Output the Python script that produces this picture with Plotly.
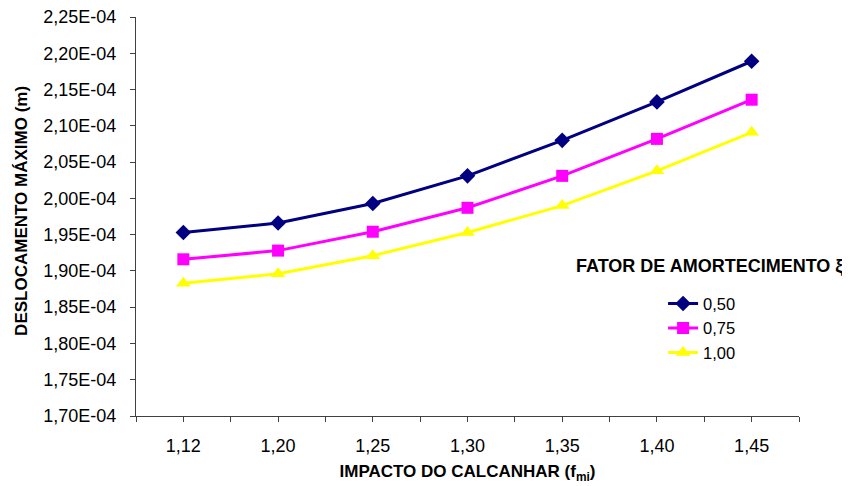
import plotly.graph_objects as go

categories = ["1,12", "1,20", "1,25", "1,30", "1,35", "1,40", "1,45"]
series_names = ["0,50", "0,75", "1,00"]
values_050 = [1.953e-4, 1.966e-4, 1.993e-4, 2.031e-4, 2.080e-4, 2.133e-4, 2.189e-4]
values_075 = [1.916e-4, 1.928e-4, 1.954e-4, 1.987e-4, 2.031e-4, 2.082e-4, 2.136e-4]
values_100 = [1.883e-4, 1.896e-4, 1.921e-4, 1.953e-4, 1.990e-4, 2.038e-4, 2.091e-4]
y_tick_values = [1.70e-4, 1.75e-4, 1.80e-4, 1.85e-4, 1.90e-4, 1.95e-4, 2.00e-4,
                 2.05e-4, 2.10e-4, 2.15e-4, 2.20e-4, 2.25e-4]
y_tick_labels = ["1,70E-04", "1,75E-04", "1,80E-04", "1,85E-04", "1,90E-04", "1,95E-04",
                 "2,00E-04", "2,05E-04", "2,10E-04", "2,15E-04", "2,20E-04", "2,25E-04"]

colors = ["#000080", "#FF00FF", "#FFFF00"]
symbols = ["diamond", "square", "triangle-up"]
msizes = [12, 12, 13]

xidx = list(range(len(categories)))
boundaries = [i - 0.5 for i in range(len(categories) + 1)]
FONT = "Liberation Sans, Arial, DejaVu Sans, sans-serif"

fig = go.Figure()
for name, vals, c, s, ms in zip(series_names, [values_050, values_075, values_100], colors, symbols, msizes):
    fig.add_trace(go.Scatter(
        x=xidx, y=vals, name=name, mode="lines+markers",
        line=dict(color=c, width=3),
        marker=dict(color=c, symbol=s, size=ms, line=dict(width=0)),
    ))

# page body has an 8px margin, so the figure is sized to fit the window
fig.update_layout(
    width=842, height=478,
    margin=dict(l=128, r=51, t=9, b=70, autoexpand=False),
    paper_bgcolor="white", plot_bgcolor="white",
    font=dict(family=FONT, size=18, color="black"),
    showlegend=True,
    legend=dict(x=0.795, y=0.325, xanchor="left", yanchor="top",
                bgcolor="rgba(0,0,0,0)", font=dict(size=16.5),
                tracegroupgap=0, itemwidth=30),
    xaxis=dict(
        range=[-0.5, len(categories) - 0.5],
        tickmode="array", tickvals=xidx, ticktext=categories,
        ticks="outside", ticklen=5, tickcolor="#404040", tickwidth=1,
        minor=dict(tickmode="array", tickvals=boundaries, ticks="outside",
                   ticklen=5, tickcolor="#404040", tickwidth=1, showgrid=False),
        showline=True, linecolor="#404040", linewidth=1,
        showgrid=False, zeroline=False, automargin=False,
        ticklabelstandoff=8, ticklabeloverflow="allow",
        tickfont=dict(size=18),
        title=dict(text="<b>IMPACTO DO CALCANHAR (f<sub>mi</sub>)</b>",
                   font=dict(size=17), standoff=10),
    ),
    yaxis=dict(
        range=[1.70e-4, 2.25e-4],
        tickmode="array", tickvals=y_tick_values, ticktext=y_tick_labels,
        ticks="outside", ticklen=5, tickcolor="#404040", tickwidth=1,
        showline=True, linecolor="#404040", linewidth=1,
        showgrid=False, zeroline=False, automargin=False,
        ticklabelstandoff=10, ticklabeloverflow="allow",
        tickfont=dict(size=18),
    ),
    annotations=[
        dict(text="<b>FATOR DE AMORTECIMENTO ξ</b>",
             xref="paper", yref="paper",
             x=1.07, y=0.375, xanchor="right", yanchor="middle", showarrow=False,
             font=dict(size=18)),
        dict(text="<b>DESLOCAMENTO MÁXIMO (m)</b>",
             xref="paper", yref="paper", textangle=-90,
             x=-0.172, y=0.514, xanchor="center", yanchor="middle", showarrow=False,
             font=dict(size=17)),
    ],
)

fig.write_html("out.html")
